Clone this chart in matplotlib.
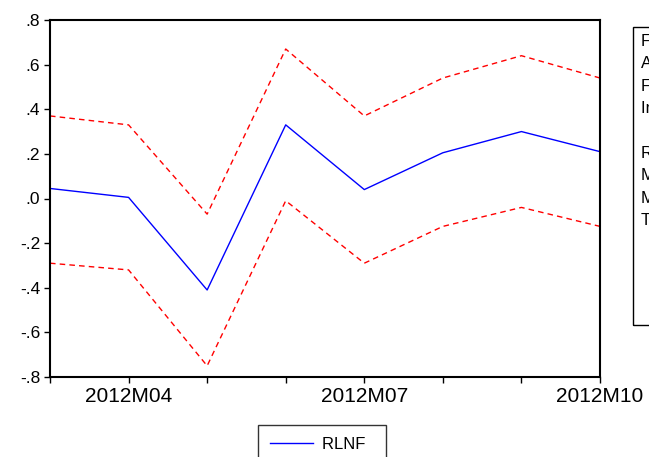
import matplotlib
matplotlib.use("Agg")
import matplotlib.pyplot as plt
from matplotlib.lines import Line2D

plt.rcParams['font.family'] = ['Liberation Sans', 'DejaVu Sans']

months = ["2012M03", "2012M04", "2012M05", "2012M06",
          "2012M07", "2012M08", "2012M09", "2012M10"]
rlnf = [0.045, 0.005, -0.41, 0.33, 0.04, 0.205, 0.30, 0.21]
upper = [0.37, 0.33, -0.07, 0.67, 0.37, 0.54, 0.64, 0.54]
lower = [-0.29, -0.32, -0.75, -0.01, -0.29, -0.125, -0.04, -0.125]

stats_text = ["Forecast: RLNFF", "Actual: RLNF", "Forecast sample: 2012M03 2012M10",
              "Included observations: 8", "",
              "Root Mean Squared Error", "Mean Absolute Error",
              "Mean Abs. Percent Error", "Theil Inequality Coefficient"]

fig = plt.figure(figsize=(6.49, 4.57), dpi=100)
ax = fig.add_axes([50 / 649, 1 - 377 / 457, 550 / 649, 357 / 457])

x = list(range(len(months)))
ax.plot(x, rlnf, color="blue", lw=1.0)
ax.plot(x, upper, color="red", lw=1.0, ls=(0, (4, 3)))
ax.plot(x, lower, color="red", lw=1.0, ls=(0, (4, 3)))

ax.set_xlim(0, len(months) - 1)
ax.set_ylim(-0.8, 0.8)
ax.set_xticks(x)
ax.set_xticklabels([m if i % 3 == 1 else "" for i, m in enumerate(months)], fontsize=15)
yt = [-0.8, -0.6, -0.4, -0.2, 0.0, 0.2, 0.4, 0.6, 0.8]
ax.set_yticks(yt)
ax.set_yticklabels([("-" if v < 0 else "") + ("%.1f" % abs(v))[1:] for v in yt], fontsize=12.5)
ax.tick_params(direction="out", length=4, width=1, pad=3)
for s in ax.spines.values():
    s.set_linewidth(1.5)

# stats box, cut off at the right edge like in the original
fig.patches.append(plt.Rectangle((633 / 649, 1 - 325 / 457), 0.1, 298 / 457,
                                 transform=fig.transFigure, fill=False,
                                 edgecolor="black", lw=1.0))
for i, t in enumerate(stats_text):
    fig.text(641 / 649, 1 - (41 + i * 22.5) / 457, t, fontsize=12, va="center", ha="left")

handle = Line2D([], [], color="blue", lw=1.0)
fig.legend([handle], ["RLNF  "], loc="upper left", bbox_to_anchor=(258 / 649, 1 - 425 / 457),
           frameon=True, fancybox=False, edgecolor="black", fontsize=12,
           handlelength=2.6, handletextpad=0.55, borderpad=0.7, borderaxespad=0)

fig.savefig("out.png", dpi=100)
